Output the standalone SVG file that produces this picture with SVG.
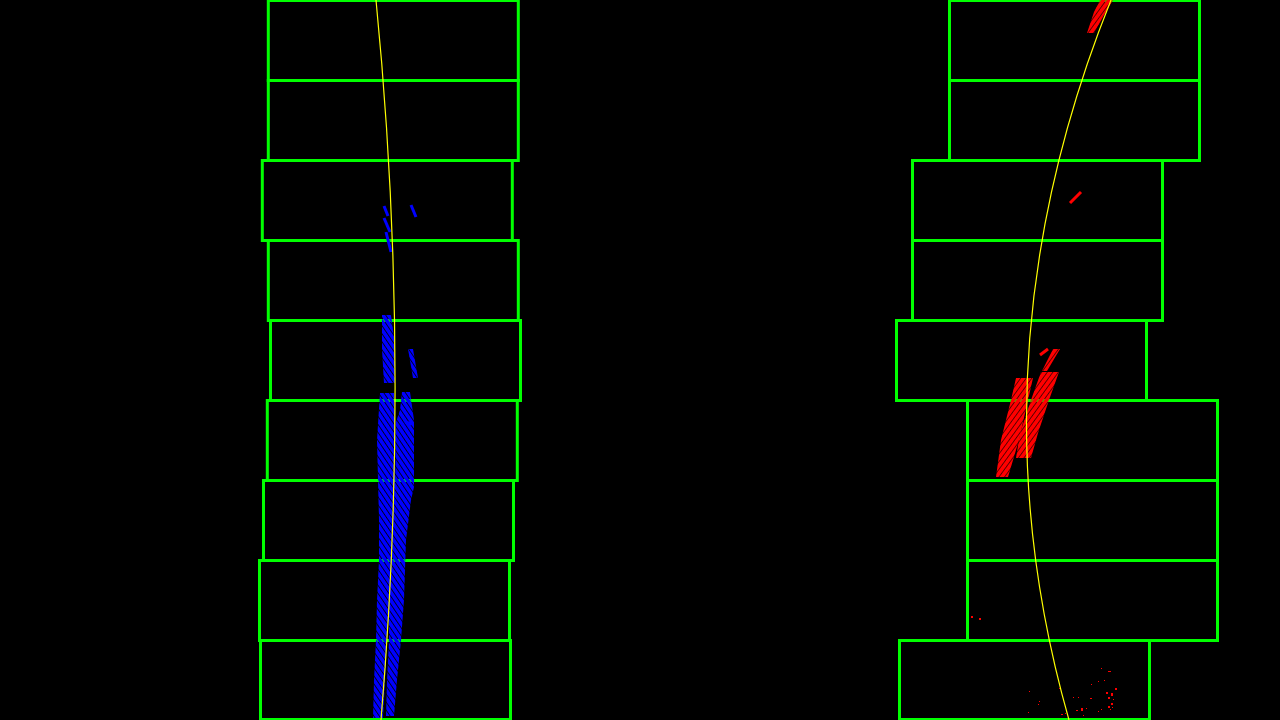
<svg xmlns="http://www.w3.org/2000/svg" width="1280" height="720" viewBox="0 0 1280 720">
<defs>
<style>
.win{fill:none;stroke:#00ff00;stroke-width:3}
.fit{fill:none;stroke:#ffff00;stroke-width:1.2}
.bd{stroke:#0000ff;stroke-width:3;stroke-linecap:butt}
.rd{stroke:#ff0000;stroke-width:3;stroke-linecap:butt}
.rp{fill:#ff0000}
</style>
<pattern id="bh" patternUnits="userSpaceOnUse" width="4.5" height="6" patternTransform="rotate(-34)">
<rect x="0" y="0" width="3.7" height="6" fill="#0000ff"/>
</pattern>
<pattern id="rh" patternUnits="userSpaceOnUse" width="4.5" height="6" patternTransform="rotate(36)">
<rect x="0" y="0" width="3.9" height="6" fill="#ff0000"/>
</pattern>
</defs>
<rect width="1280" height="720" fill="#000"/>
<g id="left-windows">
<rect class="win" x="268.3" y="0.5" width="250" height="80"/>
<rect class="win" x="268.3" y="80.5" width="250" height="80"/>
<rect class="win" x="262.3" y="160.5" width="250" height="80"/>
<rect class="win" x="268.3" y="240.5" width="250" height="80"/>
<rect class="win" x="270.5" y="320.5" width="250" height="80"/>
<rect class="win" x="267.3" y="400.5" width="250" height="80"/>
<rect class="win" x="263.5" y="480.5" width="250" height="80"/>
<rect class="win" x="259.5" y="560.5" width="250" height="80"/>
<rect class="win" x="260.5" y="640.5" width="250" height="79"/>
</g>
<g id="right-windows">
<rect class="win" x="949.5" y="0.5" width="250" height="80"/>
<rect class="win" x="949.5" y="80.5" width="250" height="80"/>
<rect class="win" x="912.5" y="160.5" width="250" height="80"/>
<rect class="win" x="912.5" y="240.5" width="250" height="80"/>
<rect class="win" x="896.5" y="320.5" width="250" height="80"/>
<rect class="win" x="967.5" y="400.5" width="250" height="80"/>
<rect class="win" x="967.5" y="480.5" width="250" height="80"/>
<rect class="win" x="967.5" y="560.5" width="250" height="80"/>
<rect class="win" x="899.5" y="640.5" width="250" height="79"/>
</g>
<g id="left-lane-pixels">
<line class="bd" x1="384" y1="206" x2="388" y2="216"/>
<line class="bd" x1="384" y1="218" x2="390" y2="232"/>
<line class="bd" x1="386" y1="232" x2="391" y2="252"/>
<line class="bd" x1="411" y1="205" x2="416" y2="217"/>
<polygon fill="url(#bh)" points="382,315 391,315 395,345 395,383 384,383 382,350"/>
<polygon fill="url(#bh)" points="408,349 413,349 418,378 413,378"/>
<line class="bd" x1="405" y1="422" x2="412" y2="424"/>
<polygon fill="url(#bh)" points="380,393 394,393 396,440 395,480 394,520 391,560 390,600 387,640 385,680 383,718 373,718 374,680 376,640 377,600 379,560 379,520 378,480 377,440"/>
<polygon fill="url(#bh)" points="402,392 410,392 414,420 414,487 411,500 406,540 404,600 401,640 397,680 394,716 386,716 387,680 389,640 389,600 391,560 394,500 396,460 396,422 400,410"/>
</g>
<g id="right-lane-pixels">
<polygon fill="url(#rh)" points="1100,0 1113,0 1104,15 1094,33 1087,33 1094,12"/>
<line class="rd" x1="1070" y1="203" x2="1081" y2="192"/>
<line class="rd" x1="1040" y1="355" x2="1048" y2="349"/>
<polygon fill="url(#rh)" points="1053,349 1060,349 1047,371 1042,371"/>
<polygon fill="url(#rh)" points="1016,378 1033,378 1028,400 1019,440 1008,477 996,477 1001,440 1011,400"/>
<polygon fill="url(#rh)" points="1041,372 1059,372 1049,400 1038,433 1031,458 1016,458 1020,433 1031,400"/>
<rect class="rp" x="971" y="616" width="2" height="2"/>
<rect class="rp" x="979" y="618" width="2" height="2"/>
<rect class="rp" x="1108" y="671" width="3" height="1"/>
<rect class="rp" x="1101" y="668" width="1" height="1"/>
<rect class="rp" x="1098" y="681" width="1" height="1"/>
<rect class="rp" x="1104" y="680" width="1" height="1"/>
<rect class="rp" x="1091" y="684" width="1" height="1"/>
<rect class="rp" x="1115" y="688" width="2" height="2"/>
<rect class="rp" x="1111" y="693" width="2" height="3"/>
<rect class="rp" x="1108" y="697" width="2" height="2"/>
<rect class="rp" x="1113" y="699" width="1" height="1"/>
<rect class="rp" x="1090" y="698" width="2" height="1"/>
<rect class="rp" x="1111" y="703" width="2" height="2"/>
<rect class="rp" x="1108" y="706" width="2" height="2"/>
<rect class="rp" x="1101" y="709" width="1" height="1"/>
<rect class="rp" x="1112" y="707" width="1" height="1"/>
<rect class="rp" x="1086" y="708" width="1" height="1"/>
<rect class="rp" x="1081" y="708" width="2" height="3"/>
<rect class="rp" x="1076" y="710" width="2" height="1"/>
<rect class="rp" x="1078" y="697" width="1" height="1"/>
<rect class="rp" x="1073" y="697" width="1" height="1"/>
<rect class="rp" x="1061" y="714" width="2" height="1"/>
<rect class="rp" x="1065" y="713" width="1" height="1"/>
<rect class="rp" x="1029" y="691" width="1" height="1"/>
<rect class="rp" x="1039" y="701" width="1" height="1"/>
<rect class="rp" x="1038" y="704" width="1" height="1"/>
<rect class="rp" x="1028" y="712" width="1" height="1"/>
<rect class="rp" x="1059" y="688" width="1" height="1"/>
<rect class="rp" x="1083" y="715" width="1" height="1"/>
<rect class="rp" x="1098" y="711" width="1" height="1"/>
<rect class="rp" x="1110" y="709" width="1" height="1"/>
<rect class="rp" x="1106" y="692" width="2" height="2"/>
</g>
<g id="fit-curves">
<path class="fit" d="M376,0 Q411.5,360 381,720"/>
<path class="fit" d="M1111,0 Q966.5,360 1069,720"/>
</g>
</svg>
